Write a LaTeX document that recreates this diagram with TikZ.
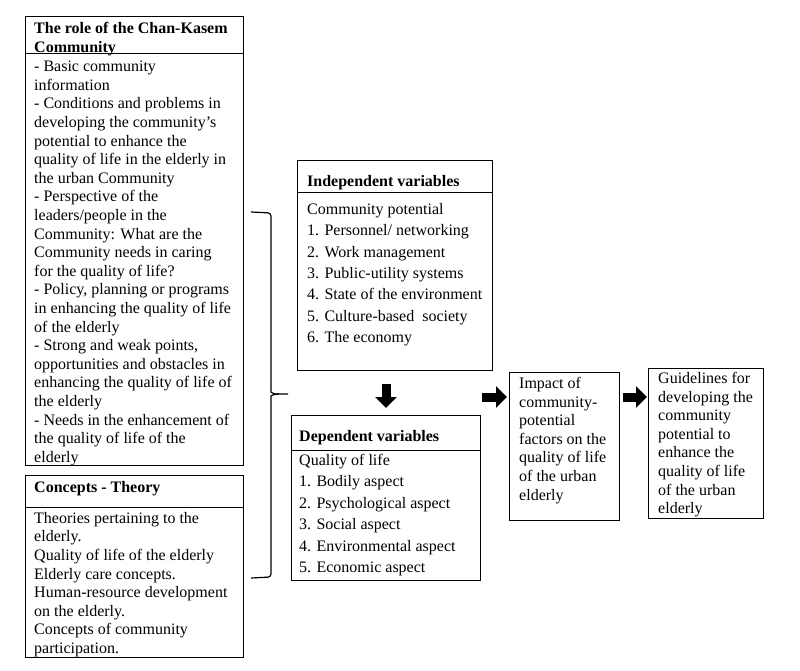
\documentclass[tikz,border=0pt]{standalone}
\usepackage{fontspec}
\setmainfont{Liberation Serif}
\usetikzlibrary{arrows.meta}
\newcommand\fa{\fontsize{16}{18.6}\selectfont}
\newcommand\fb{\fontsize{16}{21.4}\selectfont}
\newcommand\fh{\fontsize{16}{19}\selectfont\bfseries}
\begin{document}
\begin{tikzpicture}[x=1pt,y=-1pt,
  box/.style={draw, line width=1pt, anchor=north west, inner sep=0pt},
  txt/.style={anchor=north west, inner sep=0pt, align=left, font=\fa, execute at begin node=\strut},
  txtb/.style={txt, font=\fb},
  txth/.style={txt, font=\fh},
  blk/.style={line width=9pt, -{Triangle[length=11pt,width=21pt]}}]
\useasboundingbox (0,0) rectangle (800,671);
% boxes
\node[box, minimum width=218pt, minimum height=449pt] (role) at (25,16) {};
\node[box, minimum width=218pt, minimum height=182pt] (concepts) at (25,475) {};
\node[box, minimum width=195pt, minimum height=210pt] (indep) at (297,160) {};
\node[box, minimum width=189pt, minimum height=165pt] (dep) at (291,415) {};
\node[box, minimum width=110pt, minimum height=148pt] (impact) at (509,372) {};
\node[box, minimum width=115pt, minimum height=150pt] (guide) at (648,368) {};
% header dividers
\draw[line width=1pt] (25,54) -- (243,54);
\draw[line width=1pt] (25,507) -- (243,507);
\draw[line width=1pt] (297,193) -- (492,193);
\draw[line width=1pt] (291,450) -- (480,450);
% texts
\node[txth] (roleh) at (34,22) {The role of the Chan-Kasem\\Community};
\node[txt] (roleb) at (34,61) {- Basic community\\information\\- Conditions and problems in\\developing the community’s\\potential to enhance the\\quality of life in the elderly in\\the urban Community\\- Perspective of the\\leaders/people in the\\Community: What are the\\Community needs in caring\\for the quality of life?\\- Policy, planning or programs\\in enhancing the quality of life\\of the elderly\\- Strong and weak points,\\opportunities and obstacles in\\enhancing the quality of life of\\the elderly\\- Needs in the enhancement of\\the quality of life of the\\elderly};
\node[txth] (conh) at (34,479) {Concepts - Theory};
\node[txt] (conb) at (34,512) {Theories pertaining to the\\elderly.\\Quality of life of the elderly\\Elderly care concepts.\\Human-resource development\\on the elderly.\\Concepts of community\\participation.};
\node[txth] (indh) at (307,173) {Independent variables};
\node[txtb] (indb) at (307,203) {Community potential\\1. Personnel/ networking\\2. Work management\\3. Public-utility systems\\4. State of the environment\\5. Culture-based\ \ society\\6. The economy};
\node[txth] (deph) at (299,428) {Dependent variables};
\node[txtb] (depb) at (299,454) {Quality of life\\1. Bodily aspect\\2. Psychological aspect\\3. Social aspect\\4. Environmental aspect\\5. Economic aspect};
\node[txt] (impt) at (519,377) {Impact of\\community-\\potential\\factors on the\\quality of life\\of the urban\\elderly};
\node[txt] (guit) at (658,372) {Guidelines for\\developing the\\community\\potential to\\enhance the\\quality of life\\of the urban\\elderly};
% brace
\draw[line width=1.2pt, rounded corners=3pt] (251,212) -- (271,213) -- (271,389) to[out=-90,in=180] (279,394) -- (288,394);
\draw[line width=1.2pt, rounded corners=3pt] (279,394) to[out=180,in=90] (271,399) -- (271,577) -- (251,578);
% arrows
\coordinate (a1) at (482,397);
\draw[blk, shorten <=13pt, shorten >=7pt] (indep.south -| dep.north) -- (dep.north);
\draw[blk, shorten >=2pt] (a1) -- (a1 -| impact.west);
\draw[blk, shorten <=3pt, shorten >=1pt] (a1 -| impact.east) -- (a1 -| guide.west);
\end{tikzpicture}
\end{document}
